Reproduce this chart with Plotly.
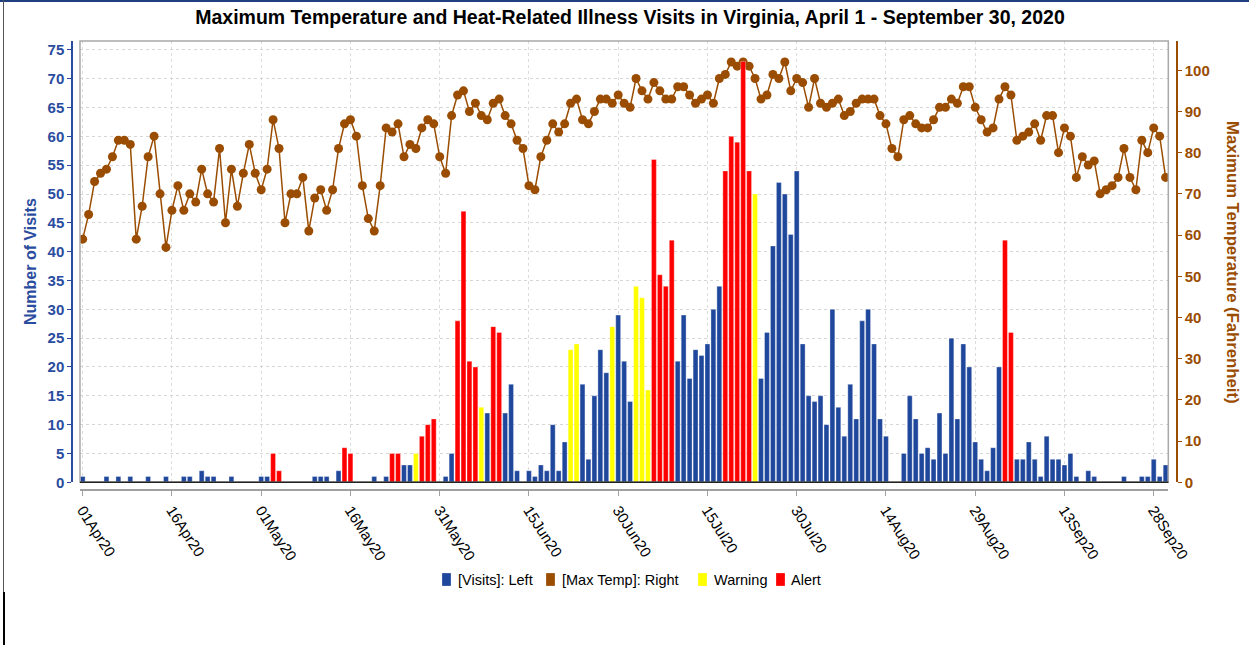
import pandas as pd
import plotly.graph_objects as go

# ---------------------------------------------------------------- data
dates = pd.date_range("2020-04-01", "2020-09-30", freq="D")

max_temp_f = [
    # April
    59, 65, 73, 75, 76, 79, 83, 83, 82, 59, 67, 79, 84, 70, 57,
    66, 72, 66, 70, 68, 76, 70, 68, 81, 63, 76, 67, 75, 82, 75,
    # May
    71, 76, 88, 81, 63, 70, 70, 74, 61, 69, 71, 66, 71, 81, 87, 88,
    84, 72, 64, 61, 72, 86, 85, 87, 79, 82, 81, 86, 88, 87, 79,
    # June
    75, 89, 94, 95, 90, 92, 89, 88, 92, 93, 89, 87, 83, 81, 72,
    71, 79, 83, 87, 85, 87, 92, 93, 88, 87, 90, 93, 93, 92, 94,
    # July
    92, 91, 98, 95, 93, 97, 95, 93, 93, 96, 96, 94, 92, 93, 94, 92,
    98, 99, 102, 101, 102, 101, 98, 93, 94, 99, 98, 102, 95, 98, 97,
    # August
    91, 98, 92, 91, 92, 93, 89, 90, 92, 93, 93, 93, 89, 87, 81, 79,
    88, 89, 87, 86, 86, 88, 91, 91, 93, 92, 96, 96, 91, 88, 85,
    # September
    86, 93, 96, 94, 83, 84, 85, 87, 83, 89, 89, 80, 86, 84, 74,
    79, 77, 78, 70, 71, 72, 74, 81, 74, 71, 83, 80, 86, 84, 74,
]

visits = [
    # April
    1, 0, 0, 0, 1, 0, 1, 0, 1, 0, 0, 1, 0, 0, 1,
    0, 0, 1, 1, 0, 2, 1, 1, 0, 0, 1, 0, 0, 0, 0,
    # May
    1, 1, 5, 2, 0, 0, 0, 0, 0, 1, 1, 1, 0, 2, 6, 5,
    0, 0, 0, 1, 0, 1, 5, 5, 3, 3, 5, 8, 10, 11, 0,
    # June
    1, 5, 28, 47, 21, 20, 13, 12, 27, 26, 12, 17, 2, 0, 2,
    1, 3, 2, 10, 2, 7, 23, 24, 17, 4, 15, 23, 19, 27, 29,
    # July
    21, 14, 34, 32, 16, 56, 36, 34, 42, 21, 29, 18, 23, 22, 24, 30,
    34, 54, 60, 59, 73, 54, 50, 18, 26, 41, 52, 50, 43, 54, 24,
    # August
    15, 14, 15, 10, 30, 13, 8, 17, 11, 28, 30, 24, 11, 8, 0, 0,
    5, 15, 11, 5, 6, 4, 12, 5, 25, 11, 24, 20, 7, 4, 2,
    # September
    6, 20, 42, 26, 4, 4, 7, 4, 1, 8, 4, 4, 3, 5, 1,
    0, 2, 1, 0, 0, 0, 0, 1, 0, 0, 1, 1, 4, 1, 3,
]

warning_dates = [
    "2020-05-27", "2020-06-07", "2020-06-22", "2020-06-23", "2020-06-29",
    "2020-07-03", "2020-07-04", "2020-07-05", "2020-07-23",
]
alert_dates = [
    "2020-05-03", "2020-05-04", "2020-05-15", "2020-05-16", "2020-05-23",
    "2020-05-24", "2020-05-28", "2020-05-29", "2020-05-30",
    "2020-06-03", "2020-06-04", "2020-06-05", "2020-06-06", "2020-06-09",
    "2020-06-10", "2020-07-06", "2020-07-07", "2020-07-08", "2020-07-09",
    "2020-07-18", "2020-07-19", "2020-07-20", "2020-07-21", "2020-07-22",
    "2020-09-03", "2020-09-04",
]

tick_dates = [
    "2020-04-01", "2020-04-16", "2020-05-01", "2020-05-16", "2020-05-31",
    "2020-06-15", "2020-06-30", "2020-07-15", "2020-07-30", "2020-08-14",
    "2020-08-29", "2020-09-13", "2020-09-28",
]
tick_labels = [
    "01Apr20", "16Apr20", "01May20", "16May20", "31May20", "15Jun20",
    "30Jun20", "15Jul20", "30Jul20", "14Aug20", "29Aug20", "13Sep20",
    "28Sep20",
]

# ---------------------------------------------------------------- style
BLUE = "#1F479C"
BLUE_TXT = "#2A4C9E"
BROWN = "#9A4C00"
YELLOW = "#FFFF00"
RED = "#FF0000"
FONT = "Liberation Sans, Arial, sans-serif"

W, H = 1249, 645
ML, MR, MT, MB = 72, 72, 41, 155
PW, PH = W - ML - MR, H - MT - MB


def px_x(px):
    return (px - ML) / PW


def px_y(py):
    return (H - MB - py) / PH


X_DOM = [px_x(80), px_x(1168.3)]
Y_DOM = [px_y(482.3), 1.0]

# split the daily visit counts by heat-advisory level
warn_set = set(pd.to_datetime(warning_dates))
alert_set = set(pd.to_datetime(alert_dates))
level = ["A" if d in alert_set else "W" if d in warn_set else "N" for d in dates]
v_normal = [v if lv == "N" else None for v, lv in zip(visits, level)]
v_warn = [v if lv == "W" else None for v, lv in zip(visits, level)]
v_alert = [v if lv == "A" else None for v, lv in zip(visits, level)]

fig = go.Figure()

# temperature line (right-hand scale)
fig.add_trace(go.Scatter(
    x=dates, y=max_temp_f, mode="lines+markers", yaxis="y",
    line=dict(color=BROWN, width=1.5),
    marker=dict(color=BROWN, size=9),
    showlegend=False, name="[Max Temp]: Right",
))

bar_edge = dict(color="rgba(255,255,255,0.55)", width=0.6)
for vals, col, nm in [(v_normal, BLUE, "[Visits]: Left"),
                      (v_warn, YELLOW, "Warning"),
                      (v_alert, RED, "Alert")]:
    fig.add_trace(go.Bar(
        x=dates, y=vals, yaxis="y2", name=nm,
        marker=dict(color=col, line=bar_edge), showlegend=False,
    ))

x_lo = dates[0] - pd.Timedelta(hours=10.8)
x_hi = dates[-1] + pd.Timedelta(hours=10.8)

fig.update_layout(
    width=W, height=H,
    margin=dict(l=ML, r=MR, t=MT, b=MB),
    paper_bgcolor="white", plot_bgcolor="white",
    barmode="overlay", bargap=0.18,
    font=dict(family=FONT, size=13, color="#000000"),
    title=dict(
        text="<b>Maximum Temperature and Heat-Related Illness Visits in Virginia, April 1 - September 30, 2020</b>",
        x=630 / W, xanchor="center", xref="container",
        y=1 - 17 / H, yanchor="middle", yref="container",
        font=dict(family=FONT, size=19.5, color="#000000"),
    ),
    xaxis=dict(
        domain=X_DOM, range=[x_lo, x_hi], anchor="free", position=0,
        tickmode="array", tickvals=tick_dates, ticktext=tick_labels,
        tickangle=57, tickfont=dict(family=FONT, size=15, color="#000000"),
        ticks="outside", ticklen=5, tickcolor="#A0A0A0",
        showline=True, linecolor="#A0A0A0", linewidth=1.5,
        showgrid=True, gridcolor="#DCDCDC", griddash="3px,3px", gridwidth=1,
        zeroline=False,
    ),
    yaxis=dict(
        domain=Y_DOM, range=[0, 107.1], side="right", anchor="free", position=1,
        tickmode="linear", tick0=0, dtick=10,
        tickfont=dict(family=FONT, size=15, color=BROWN, weight="bold"),
        ticks="outside", ticklen=4, tickcolor=BROWN,
        showline=True, linecolor=BROWN, linewidth=1.5,
        showgrid=False, zeroline=False,
    ),
    yaxis2=dict(
        domain=Y_DOM, range=[0, 76.54], overlaying="y", side="left",
        anchor="free", position=0,
        tickmode="linear", tick0=0, dtick=5,
        tickfont=dict(family=FONT, size=15, color=BLUE_TXT, weight="bold"),
        ticks="outside", ticklen=4, tickcolor=BLUE_TXT,
        showline=True, linecolor=BLUE_TXT, linewidth=1.5,
        showgrid=True, gridcolor="#D6D6D6", griddash="3px,3px", gridwidth=1,
        zeroline=False,
    ),
)

# axis titles
fig.add_annotation(
    text="<b>Number of Visits</b>", textangle=-90, showarrow=False,
    xref="paper", yref="paper", x=px_x(30), y=px_y(262),
    xanchor="center", yanchor="middle",
    font=dict(family=FONT, size=16, color=BLUE_TXT),
)
fig.add_annotation(
    text="<b>Maximum Temperature (Fahrenheit)</b>", textangle=90, showarrow=False,
    xref="paper", yref="paper", x=px_x(1233), y=px_y(262),
    xanchor="center", yanchor="middle",
    font=dict(family=FONT, size=16.7, color=BROWN),
)

# plot frame
fig.add_shape(type="rect", xref="paper", yref="paper",
              x0=X_DOM[0], x1=X_DOM[1], y0=Y_DOM[0], y1=Y_DOM[1],
              line=dict(color="#A8A8A8", width=1.5), layer="above")
fig.add_shape(type="line", xref="paper", yref="paper",
              x0=X_DOM[0], x1=X_DOM[1], y0=Y_DOM[0], y1=Y_DOM[0],
              line=dict(color="#222222", width=1.5), layer="above")

# page border
fig.add_shape(type="line", xref="paper", yref="paper",
              x0=px_x(0), x1=px_x(W), y0=px_y(1), y1=px_y(1),
              line=dict(color="#1F3F80", width=2))
fig.add_shape(type="line", xref="paper", yref="paper",
              x0=px_x(3.5), x1=px_x(3.5), y0=px_y(0), y1=px_y(592),
              line=dict(color="#555555", width=1))
fig.add_shape(type="line", xref="paper", yref="paper",
              x0=px_x(4), x1=px_x(4), y0=px_y(592), y1=px_y(645),
              line=dict(color="#000000", width=2))

# legend
legend_items = [
    ("[Visits]: Left", BLUE, 442, 456),
    ("[Max Temp]: Right", BROWN, 546, 560),
    ("Warning", YELLOW, 698, 712),
    ("Alert", RED, 776, 789),
]
for label, col, sx, tx in legend_items:
    fig.add_shape(type="rect", xref="paper", yref="paper",
                  x0=px_x(sx), x1=px_x(sx + 9), y0=px_y(586), y1=px_y(573),
                  fillcolor=col, line=dict(color="rgba(255,255,255,0.5)", width=0.5))
    fig.add_annotation(text=label, showarrow=False, xref="paper", yref="paper",
                       x=px_x(tx), y=px_y(579.5), xanchor="left", yanchor="middle",
                       font=dict(family=FONT, size=14.5, color="#000000"))

fig.write_html("out.html")
